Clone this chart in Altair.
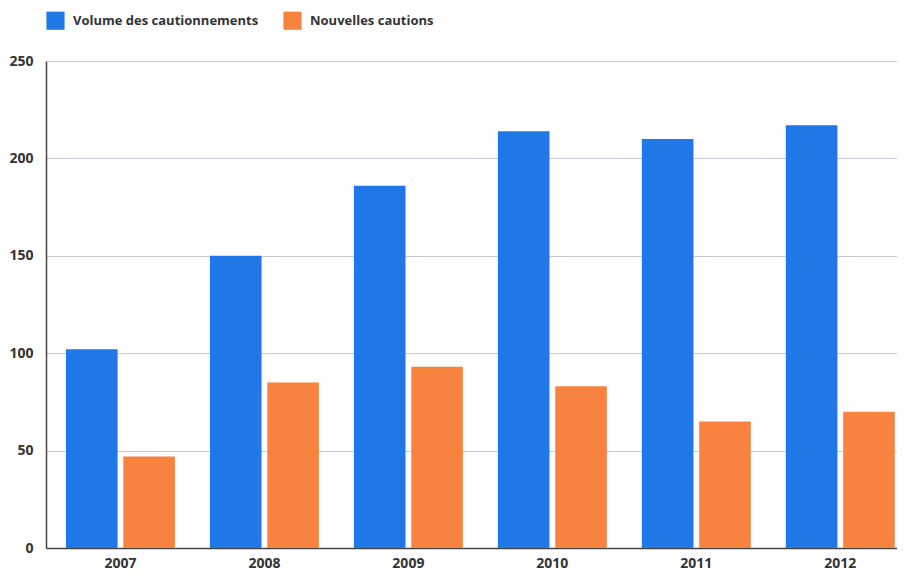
import altair as alt
import pandas as pd

years = ["2007", "2008", "2009", "2010", "2011", "2012"]
series = ["Volume des cautionnements", "Nouvelles cautions"]
volume = [102, 150, 186, 214, 210, 217]
nouvelles = [47, 85, 93, 83, 65, 70]
colors = ["#1f78e6", "#f7833f"]

rows = []
for y, v, n in zip(years, volume, nouvelles):
    rows.append({"year": y, "series": series[0], "value": v})
    rows.append({"year": y, "series": series[1], "value": n})
df = pd.DataFrame(rows)

FONT = "Open Sans"

chart = alt.Chart(df).mark_bar().encode(
    x=alt.X("year:N", sort=years, title=None,
            scale=alt.Scale(paddingInner=0.243, paddingOuter=0.077, align=0.9),
            axis=alt.Axis(labelAngle=0, ticks=False, grid=False, domainColor="#444",
                          domainWidth=1.5, labelPadding=8)),
    xOffset=alt.XOffset("series:N", sort=series,
                        scale=alt.Scale(paddingInner=0.1)),
    y=alt.Y("value:Q", title=None,
            scale=alt.Scale(domain=[0, 250]),
            axis=alt.Axis(values=[0, 50, 100, 150, 200, 250], ticks=False,
                          labelPadding=13, gridColor="#c8c8d6", domainColor="#444",
                          domainWidth=1.5)),
    color=alt.Color("series:N", sort=series,
                    scale=alt.Scale(domain=series, range=colors),
                    legend=alt.Legend(title=None, orient="top", direction="horizontal",
                                      symbolType="square", symbolSize=330,
                                      symbolStrokeWidth=0, labelOffset=8,
                                      columnPadding=24, offset=31, labelLimit=0)),
).properties(
    width=851, height=487,
    padding={"left": 0, "top": 3, "right": 0, "bottom": 0},
).configure_view(
    stroke=None
).configure_axis(
    labelFont=FONT, labelFontSize=14, labelFontWeight="bold", labelColor="#333"
).configure_legend(
    labelFont=FONT, labelFontSize=13, labelFontWeight="bold", labelColor="#333"
)

chart.save("out.html", embed_options={"renderer": "svg", "actions": False})
